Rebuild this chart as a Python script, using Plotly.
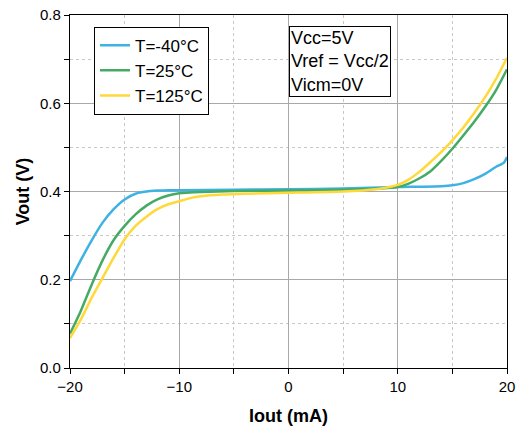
import plotly.graph_objects as go

# Output voltage vs. output current at three temperatures
iout_m40 = [-20, -19, -18, -17, -16, -15, -14, -13, -12, -11, -10, -5, 0, 5, 10, 14, 15, 16, 17, 18, 19, 19.7, 20]
vout_m40 = [0.197, 0.245, 0.290, 0.330, 0.360, 0.382, 0.395, 0.400, 0.402, 0.403, 0.403, 0.404, 0.405, 0.407,
            0.410, 0.412, 0.414, 0.419, 0.428, 0.440, 0.456, 0.465, 0.478]

iout_25 = [-20, -19, -18, -17, -16, -15, -14, -13, -12, -11, -10, -8, -5, 0, 5, 8, 10, 11, 12, 13, 14, 15, 16,
           17, 18, 19, 20]
vout_25 = [0.078, 0.130, 0.190, 0.245, 0.290, 0.322, 0.348, 0.368, 0.382, 0.391, 0.396, 0.399, 0.401, 0.402,
           0.404, 0.406, 0.410, 0.418, 0.430, 0.446, 0.470, 0.497, 0.527, 0.558, 0.592, 0.630, 0.677]

iout_125 = [-20, -19, -18, -17, -16, -15, -14, -13, -12, -11, -10, -9, -8, -6, -4, 0, 5, 8, 9, 10, 11, 12, 13,
            14, 15, 16, 17, 18, 19, 20]
vout_125 = [0.068, 0.110, 0.160, 0.205, 0.250, 0.292, 0.322, 0.343, 0.360, 0.371, 0.378, 0.385, 0.389, 0.393,
            0.395, 0.397, 0.400, 0.405, 0.409, 0.415, 0.427, 0.445, 0.467, 0.490, 0.516, 0.545, 0.578, 0.614,
            0.655, 0.703]

series_names = ["T=-40°C", "T=25°C", "T=125°C"]
series_colors = ["#3DB2E3", "#45AB64", "#FFD83A"]
conditions = ["Vcc=5V", "Vref = Vcc/2", "Vicm=0V"]

FONT = "Liberation Sans, Arial, sans-serif"

fig = go.Figure()
for xs, ys, name, color in zip([iout_m40, iout_25, iout_125],
                               [vout_m40, vout_25, vout_125],
                               series_names, series_colors):
    fig.add_trace(go.Scatter(x=xs, y=ys, mode="lines", name=name,
                             line=dict(color=color, width=2.5, shape="spline", smoothing=0.6)))

axis_common = dict(
    showline=True, linecolor="black", linewidth=1.3, mirror=True,
    ticks="outside", ticklen=5, tickwidth=1.2, tickcolor="black",
    showgrid=True, gridcolor="#A8A8A8", gridwidth=1,
    zeroline=False, automargin=False,
    tickfont=dict(family=FONT, size=15, color="black"),
)

fig.update_xaxes(
    range=[-20, 20], tick0=-20, dtick=10, **axis_common,
    minor=dict(dtick=5, ticks="outside", ticklen=5, tickcolor="black", tickwidth=1,
               showgrid=True, gridcolor="#C8C8C8", griddash="dot", gridwidth=1),
    title=dict(text="<b>Iout (mA)</b>", font=dict(family=FONT, size=18, color="black"), standoff=15),
)
fig.update_yaxes(
    range=[0, 0.8], tick0=0, dtick=0.2, tickformat=".1f", **axis_common,
    minor=dict(dtick=0.1, ticks="outside", ticklen=5, tickcolor="black", tickwidth=1,
               showgrid=True, gridcolor="#C8C8C8", griddash="dot", gridwidth=1),
    title=dict(text="<b>Vout (V)</b>", font=dict(family=FONT, size=18, color="black"), standoff=5),
)

fig.add_annotation(
    xref="paper", yref="paper", x=0.501, y=0.968, xanchor="left", yanchor="top",
    text="<br>".join(conditions), align="left", showarrow=False,
    font=dict(family=FONT, size=18, color="black"),
    bordercolor="black", borderwidth=1, borderpad=1, bgcolor="white",
)

fig.update_layout(
    width=519, height=429,
    margin=dict(l=70, r=12, t=15, b=61),
    plot_bgcolor="white", paper_bgcolor="white",
    font=dict(family=FONT, color="black"),
    legend=dict(x=0.055, y=0.967, xanchor="left", yanchor="top",
                bordercolor="black", borderwidth=1, bgcolor="white",
                font=dict(family=FONT, size=17, color="black"),
                tracegroupgap=0, itemwidth=30),
    showlegend=True,
)

fig.write_html("out.html")
